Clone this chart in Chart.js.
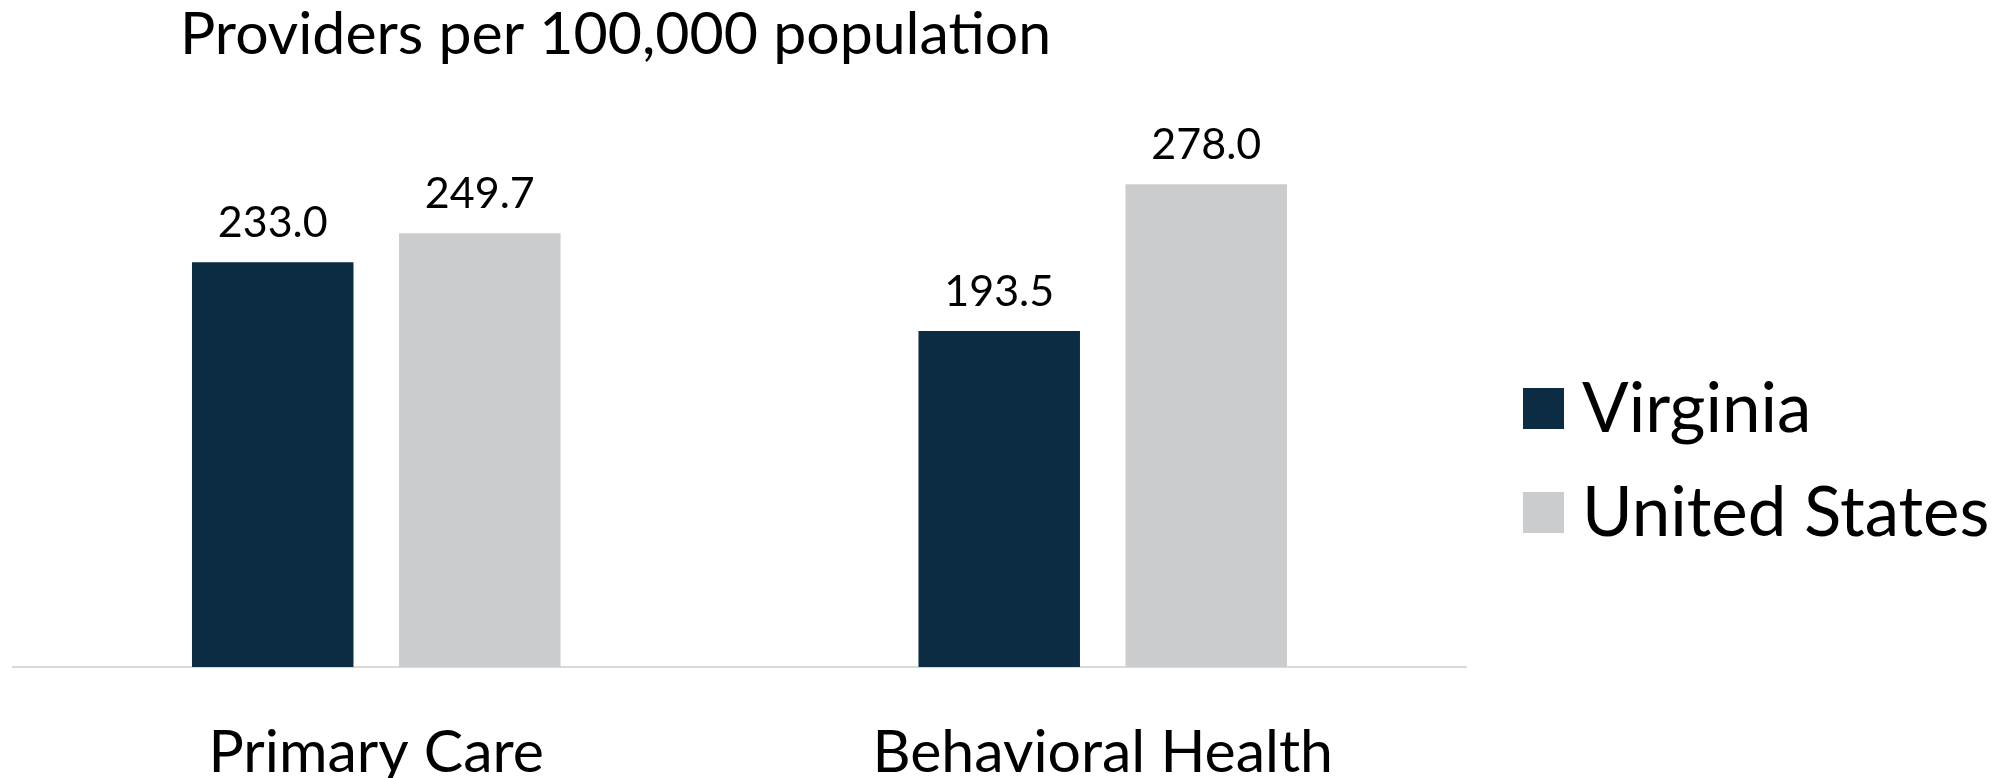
<!DOCTYPE html>
<html>
<head>
<meta charset="utf-8">
<script src="https://cdn.jsdelivr.net/npm/chart.js@4.4.0/dist/chart.umd.min.js"></script>
<style>
  html, body { margin: 0; padding: 0; background: #fff; }
  #box { position: relative; width: 2016px; height: 778px; overflow: hidden; }
  #legend { position: absolute; left: 1523px; top: 388px; font-family: Lato, sans-serif; font-size: 69px; color: #000; }
  #legend .item { display: flex; align-items: center; height: 41px; margin-bottom: 63px; white-space: nowrap; }
  #legend .swatch { width: 41px; height: 41px; margin-right: 18px; }
  #legend .name { position: relative; top: -3px; }
</style>
</head>
<body>
<div id="box">
  <canvas id="providers" width="2016" height="778"></canvas>
  <div id="legend"></div>
</div>
<script>
const categories = ["Primary Care", "Behavioral Health"];
const virginia = [233.0, 193.5];
const unitedStates = [249.7, 278.0];
const seriesNames = ["Virginia", "United States"];
const seriesColors = ["#0b2c43", "#cbcccd"];
const chartTitle = "Providers per 100,000 population";

const FONT = "Lato";

// value labels sitting above each bar
const barValues = {
    id: "barValues",
    afterDatasetsDraw(chart) {
        const ctx = chart.ctx;
        ctx.save();
        ctx.font = "43px " + FONT;
        ctx.fillStyle = "#000";
        ctx.textAlign = "center";
        ctx.textBaseline = "middle";
        chart.data.datasets.forEach((ds, i) => {
            chart.getDatasetMeta(i).data.forEach((bar, j) => {
                ctx.fillText(ds.data[j].toFixed(1), bar.x, bar.y - 39);
            });
        });
        ctx.restore();
    }
};

// heading, offset to the left over the bars
const topTitle = {
    id: "topTitle",
    afterDraw(chart) {
        const ctx = chart.ctx;
        ctx.save();
        ctx.font = "59px " + FONT;
        ctx.fillStyle = "#000";
        ctx.textBaseline = "middle";
        ctx.fillText(chartTitle, 180, 35);
        ctx.restore();
    }
};

const ctx = document.querySelector("#providers");

const myChart = new Chart(ctx, {
    type: "bar",
    data: {
        labels: categories,
        datasets: [
            {
                label: seriesNames[0],
                data: virginia,
                backgroundColor: seriesColors[0],
            },
            {
                label: seriesNames[1],
                data: unitedStates,
                backgroundColor: seriesColors[1],
            }
        ]
    },
    options: {
        responsive: false,
        animation: false,
        layout: {
            // right side left free for the html legend
            padding: { top: 146, left: 13, right: 550, bottom: 0 }
        },
        datasets: {
            bar: {
                barPercentage: 0.78,
                categoryPercentage: 0.57,
            }
        },
        plugins: {
            legend: { display: false },
            tooltip: { enabled: false },
        },
        scales: {
            x: {
                grid: { display: false },
                border: { color: "#d9d9d9", width: 2 },
                ticks: {
                    color: "#000",
                    padding: 48,
                    font: { family: FONT, size: 59, lineHeight: 1 },
                },
                afterFit: (scale) => { scale.height = 111; },
            },
            y: {
                display: false,
                min: 0,
                max: 300,
            },
        },
    },
    plugins: [barValues, topTitle]
});

// legend built from the chart's own datasets
const legendEl = document.getElementById("legend");
myChart.data.datasets.forEach((ds) => {
    const item = document.createElement("div");
    item.className = "item";
    const swatch = document.createElement("span");
    swatch.className = "swatch";
    swatch.style.background = ds.backgroundColor;
    const name = document.createElement("span");
    name.className = "name";
    name.textContent = ds.label;
    item.appendChild(swatch);
    item.appendChild(name);
    legendEl.appendChild(item);
});
</script>
</body>
</html>
